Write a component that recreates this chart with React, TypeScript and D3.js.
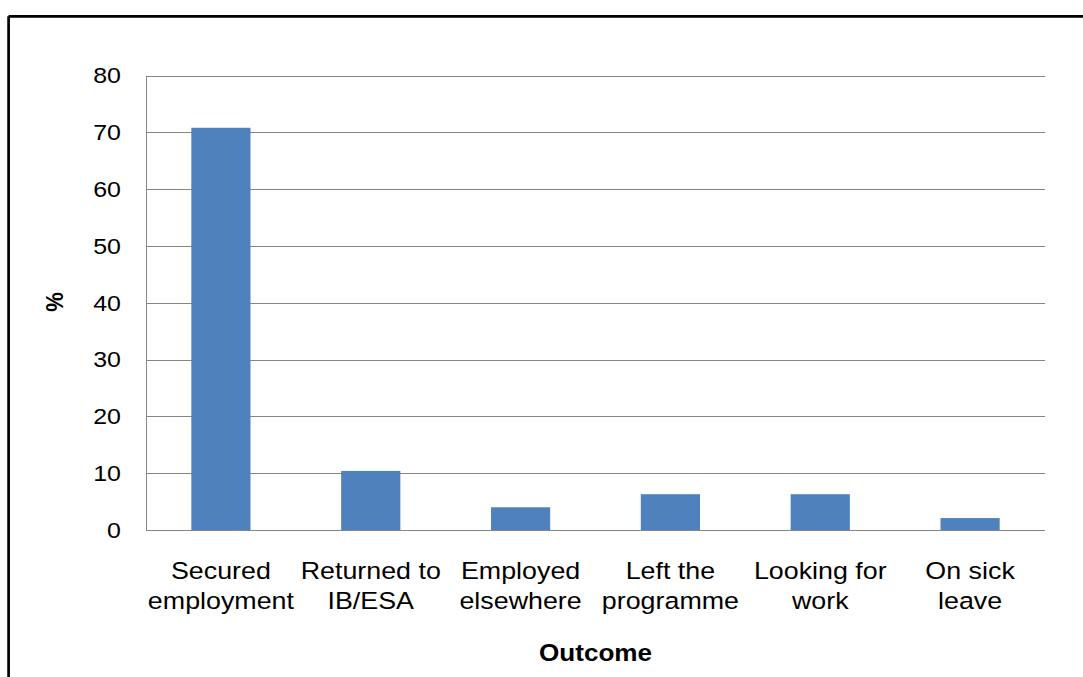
import React from "react";
import * as d3 from "d3";

const categories: string[][] = [
  ["Secured", "employment"],
  ["Returned to", "IB/ESA"],
  ["Employed", "elsewhere"],
  ["Left the", "programme"],
  ["Looking for", "work"],
  ["On sick", "leave"],
];
const values: number[] = [70.8, 10.4, 4.0, 6.3, 6.3, 2.1];
const yTicks: number[] = [0, 10, 20, 30, 40, 50, 60, 70, 80];
const yLabel = "%";
const xLabel = "Outcome";

const W = 1083;
const H = 677;
const left = 146;
const right = 1045;
const top = 75.5;
const bottom = 530;
const FONT = "'Liberation Sans', Arial, sans-serif";
const SX = 1.11;

export default function App() {
  const keys = categories.map((_, i) => String(i));
  const x = d3.scaleBand<string>().domain(keys).range([left, right]).paddingInner(0.605).paddingOuter(0.3025);
  const y = d3.scaleLinear().domain([0, 80]).range([bottom, top]);
  const grid = "#868686";
  return (
    <svg width={W} height={H} style={{ position: "absolute", left: 0, top: 0, background: "#fff" }}>
      <rect x={0} y={0} width={W} height={H} fill="#fff" />
      {/* frame */}
      <line x1={8.6} y1={16.3} x2={W + 5} y2={16.3} stroke="#000" strokeWidth={2.7} />
      <line x1={8.6} y1={16.3} x2={8.6} y2={H + 5} stroke="#000" strokeWidth={2.7} />
      {/* grid */}
      {yTicks.map((t) => (
        <line key={"g" + t} x1={left} x2={right} y1={Math.round(y(t)) + 0.5} y2={Math.round(y(t)) + 0.5} stroke={grid} strokeWidth={1} />
      ))}
      <line x1={left + 0.5} x2={left + 0.5} y1={Math.round(y(80)) + 0.5} y2={Math.round(y(0)) + 0.5} stroke={grid} strokeWidth={1} />
      {/* bars */}
      {values.map((v, i) => (
        <rect key={"b" + i} x={x(String(i))} y={y(v)} width={x.bandwidth()} height={y(0) - y(v)} fill="#4F81BD" />
      ))}
      {/* y tick labels */}
      {yTicks.map((t) => (
        <text key={"t" + t} transform={`translate(121,${y(t) + 7.8}) scale(${SX},1)`} textAnchor="end" fontFamily={FONT} fontSize={22.5} fill="#000">
          {t}
        </text>
      ))}
      {/* x labels */}
      {categories.map((lines, i) => {
        const cx = (x(String(i)) as number) + x.bandwidth() / 2;
        return lines.map((ln, j) => (
          <text key={"c" + i + j} transform={`translate(${cx},${579 + j * 30}) scale(1.095,1)`} textAnchor="middle" fontFamily={FONT} fontSize={24.5} fill="#000">
            {ln}
          </text>
        ));
      })}
      <text transform={`translate(63,302) rotate(-90) scale(1,${SX})`} textAnchor="middle" fontFamily={FONT} fontSize={22} fontWeight="bold" fill="#000">
        {yLabel}
      </text>
      <text transform={`translate(${(left + right) / 2},661) scale(1.065,1)`} textAnchor="middle" fontFamily={FONT} fontSize={24.5} fontWeight="bold" fill="#000">
        {xLabel}
      </text>
    </svg>
  );
}
